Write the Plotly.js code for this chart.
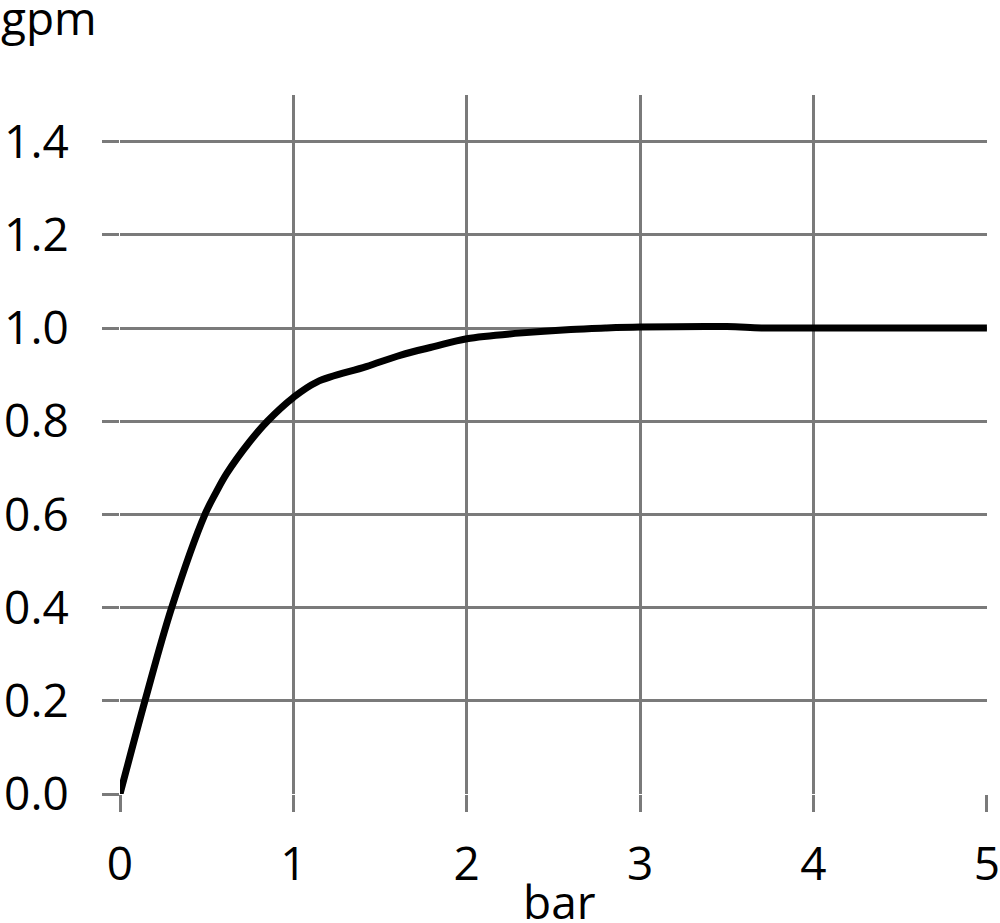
<!DOCTYPE html>
<html>
<head>
<meta charset="utf-8">
<script src="https://cdn.plot.ly/plotly-3.0.1.min.js"></script>
<style>html,body{margin:0;padding:0;background:#fff;}#chart{width:1000px;height:923px;}</style>
</head>
<body>
<div id="chart"></div>
<script>
var pressureBar = [0, 0.144, 0.298, 0.49, 0.555, 0.616, 0.75, 0.85, 1.0, 1.135, 1.42, 1.62, 1.81, 2.0, 2.3, 2.6, 2.8, 3.0, 3.5, 3.7, 4.0, 4.5, 5.0];
var flowGpm = [0, 0.2, 0.4, 0.6, 0.648, 0.688, 0.757, 0.8, 0.851, 0.884, 0.917, 0.942, 0.96, 0.977, 0.989, 0.997, 1.0, 1.002, 1.003, 1.0, 1.0, 1.0, 1.0];
var xTicks = [0, 1, 2, 3, 4, 5];
var yTicks = [0, 0.2, 0.4, 0.6, 0.8, 1.0, 1.2, 1.4];
var xTitle = "bar";
var yTitle = "gpm";

var fontFam = "Open Sans, Liberation Sans, sans-serif";
var gridCol = "#7a7a7a";

var trace = {
  x: pressureBar,
  y: flowGpm,
  type: "scatter",
  mode: "lines",
  line: {color: "#000000", width: 7, shape: "spline", smoothing: 1},
  cliponaxis: false,
  hoverinfo: "skip"
};

var layout = {
  width: 1000,
  height: 923,
  margin: {l: 120, r: 13, t: 95, b: 129, pad: 0},
  paper_bgcolor: "#ffffff",
  plot_bgcolor: "#ffffff",
  showlegend: false,
  font: {family: fontFam, color: "#000000", size: 46},
  xaxis: {
    range: [0, 5.0005],
    tickvals: xTicks,
    ticktext: xTicks.map(String),
    showgrid: true, gridcolor: gridCol, gridwidth: 3,
    zeroline: false, showline: false,
    ticks: "outside", ticklen: 17, tickwidth: 3, tickcolor: gridCol,
    ticklabelstandoff: 13,
    ticklabeloverflow: "allow",
    tickfont: {family: fontFam, size: 46, color: "#000"},
    fixedrange: true
  },
  yaxis: {
    range: [0, 1.5],
    tickvals: yTicks,
    ticktext: yTicks.map(function(v){return v.toFixed(1);}),
    showgrid: true, gridcolor: gridCol, gridwidth: 3,
    zeroline: false, showline: false,
    ticks: "outside", ticklen: 17, tickwidth: 3, tickcolor: gridCol,
    ticklabelstandoff: 24,
    tickfont: {family: fontFam, size: 46, color: "#000"},
    fixedrange: true
  },
  annotations: [{
    text: yTitle,
    xref: "paper", yref: "paper",
    x: -120/867, y: 1 + 95/699,
    xanchor: "left", yanchor: "top",
    showarrow: false,
    xshift: -1, yshift: 16,
    font: {family: fontFam, size: 46, color: "#000"}
  }, {
    text: xTitle,
    xref: "paper", yref: "paper",
    x: (559 - 120) / 867, y: -129 / 699,
    xanchor: "center", yanchor: "bottom",
    showarrow: false,
    yshift: -11,
    font: {family: fontFam, size: 46, color: "#000"}
  }]
};

Plotly.newPlot("chart", [trace], layout, {displayModeBar: false, staticPlot: true});
</script>
</body>
</html>
